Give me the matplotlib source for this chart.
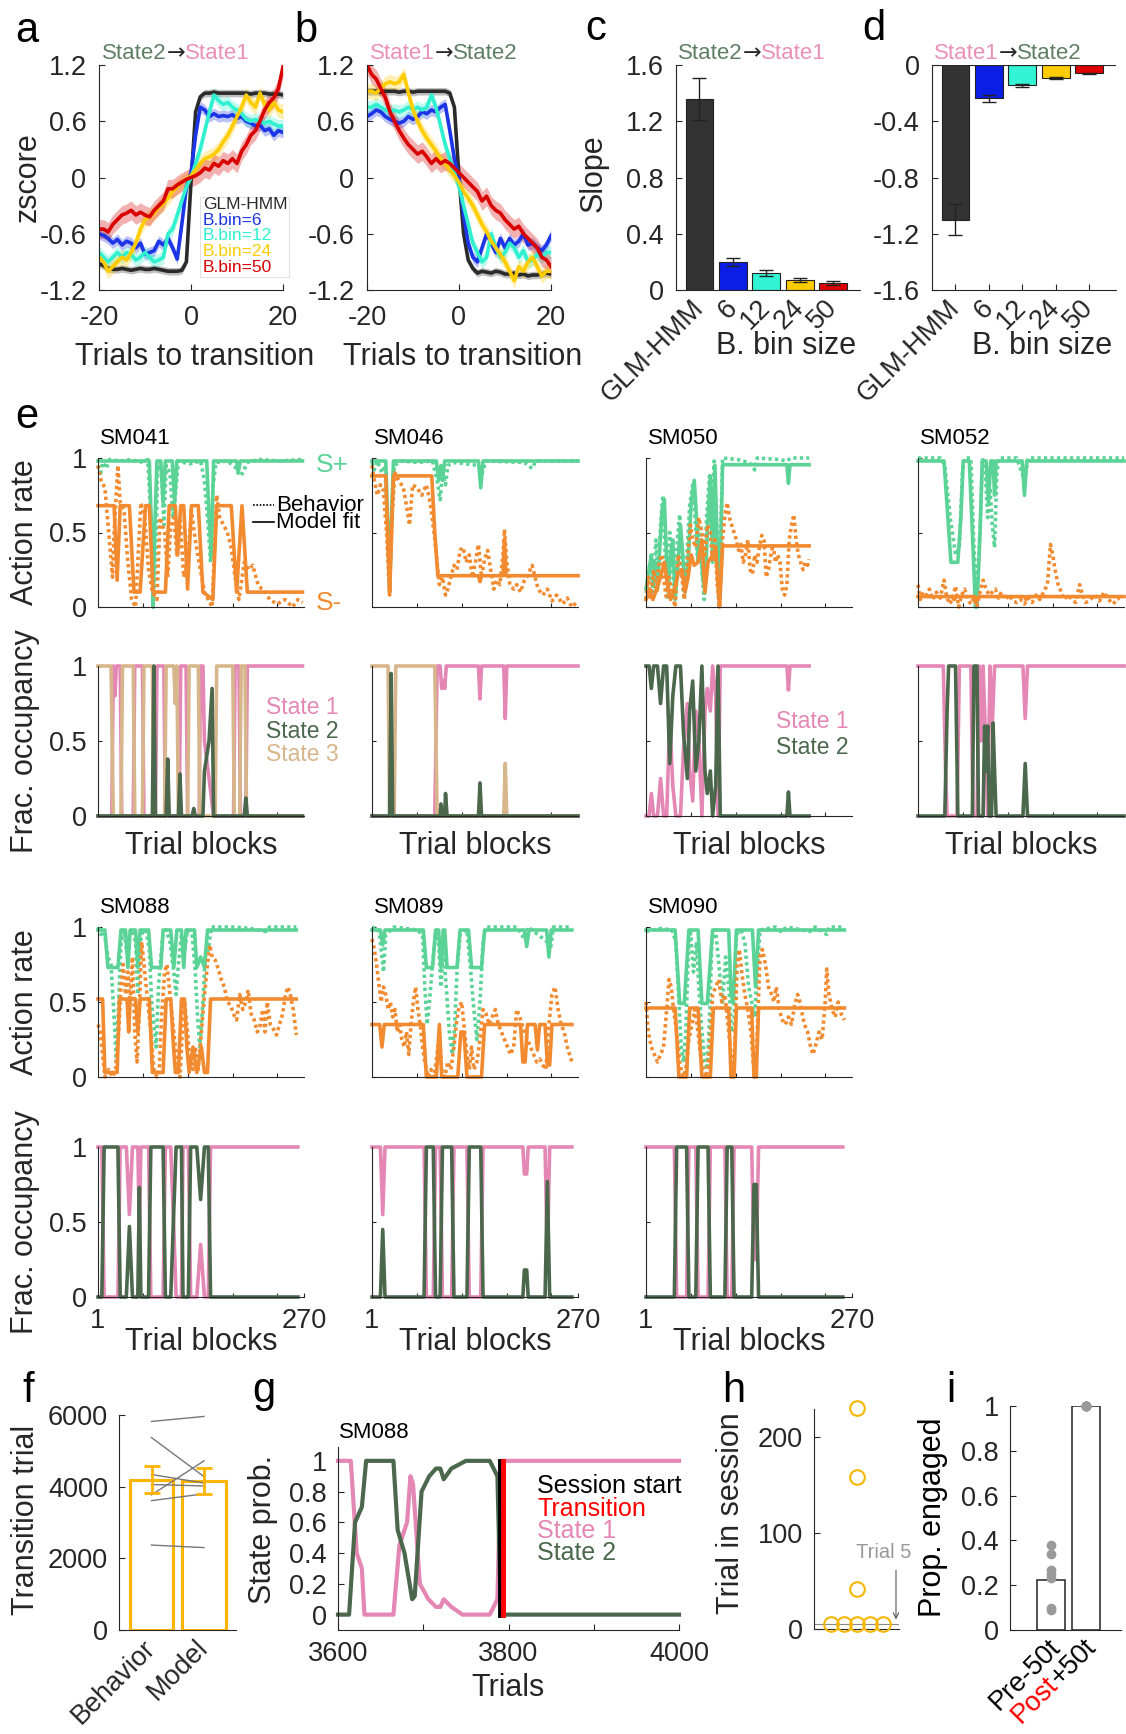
import matplotlib
matplotlib.use('Agg')
import matplotlib.pyplot as plt
import numpy as np
from matplotlib.patches import Rectangle
from matplotlib.lines import Line2D
from matplotlib import transforms

plt.rcParams['font.family'] = ['Liberation Sans', 'DejaVu Sans']
plt.rcParams['axes.unicode_minus'] = False

# ---------------- data: panels a / b (z-score around transition) ----------------
trials = list(range(-20, 21))
a_glm = [-0.92, -0.94, -0.97, -0.98, -0.98, -0.97, -0.98, -0.99, -0.98, -0.97,
         -0.98, -0.98, -0.97, -0.98, -0.99, -1.0, -1.0, -1.0, -0.99, -0.9,
         -0.05,
         0.7, 0.86, 0.9, 0.9, 0.91, 0.9, 0.9, 0.9, 0.9, 0.9,
         0.9, 0.9, 0.89, 0.9, 0.9, 0.9, 0.89, 0.89, 0.89, 0.88]
a_b6 = [-0.6, -0.62, -0.65, -0.7, -0.66, -0.72, -0.68, -0.7, -0.75, -0.7,
        -0.82, -0.8, -0.78, -0.68, -0.72, -0.65, -0.75, -0.87, -0.5, -0.1,
        0.05,
        0.45, 0.75, 0.72, 0.65, 0.68, 0.65, 0.66, 0.65, 0.67, 0.63,
        0.65, 0.6, 0.58, 0.55, 0.56, 0.5, 0.52, 0.45, 0.5, 0.48]
a_b12 = [-0.8, -0.85, -0.9, -0.85, -0.8, -0.85, -0.8, -0.82, -0.88, -0.85,
         -0.8, -0.85, -0.9, -0.88, -0.85, -0.6, -0.55, -0.4, -0.25, -0.1,
         0.0,
         0.15, 0.3, 0.5, 0.7, 0.88, 0.82, 0.78, 0.8, 0.75, 0.72,
         0.68, 0.62, 0.6, 0.62, 0.6, 0.58, 0.6, 0.57, 0.55, 0.55]
a_b24 = [-0.85, -0.9, -1.0, -0.95, -0.9, -0.85, -0.88, -0.8, -0.7, -0.55,
         -0.45, -0.42, -0.38, -0.32, -0.28, -0.22, -0.15, -0.1, -0.05, -0.02,
         0.02,
         0.08, 0.15, 0.2, 0.22, 0.25, 0.3, 0.38, 0.45, 0.55, 0.65,
         0.75, 0.88, 0.8, 0.75, 0.9, 0.78, 0.72, 0.8, 0.72, 0.7]
a_b50 = [-0.55, -0.55, -0.58, -0.5, -0.45, -0.4, -0.38, -0.35, -0.4, -0.37,
         -0.4, -0.42, -0.35, -0.3, -0.25, -0.12, -0.12, -0.08, -0.05, -0.02,
         0.0,
         0.02, 0.05, 0.1, 0.08, 0.15, 0.12, 0.18, 0.15, 0.2, 0.15,
         0.28, 0.35, 0.45, 0.5, 0.6, 0.72, 0.8, 0.85, 0.95, 1.18]

b_glm = [0.92, 0.92, 0.92, 0.91, 0.92, 0.92, 0.92, 0.91, 0.92, 0.92,
         0.91, 0.92, 0.92, 0.92, 0.92, 0.92, 0.92, 0.92, 0.9, 0.75,
         0.0,
         -0.6, -0.88, -0.97, -1.02, -1.0, -1.01, -1.02, -1.0, -1.01, -1.03,
         -1.03, -1.02, -1.04, -1.03, -1.05, -1.04, -1.04, -1.03, -1.02, -1.03]
b_b6 = [0.65, 0.68, 0.72, 0.7, 0.65, 0.62, 0.6, 0.58, 0.6, 0.65,
        0.62, 0.65, 0.7, 0.68, 0.72, 0.7, 0.75, 0.78, 0.5, 0.2,
        0.0,
        -0.4, -0.7, -0.85, -0.9, -0.75, -0.6, -0.7, -0.8, -0.65, -0.75,
        -0.65, -0.72, -0.68, -0.6, -0.72, -0.7, -0.75, -0.78, -0.72, -0.62]
b_b12 = [0.75, 0.75, 0.78, 0.75, 0.72, 0.7, 0.72, 0.7, 0.72, 0.75,
         0.72, 0.75, 0.72, 0.75, 0.88, 0.75, 0.55, 0.35, 0.2, 0.05,
         -0.1,
         -0.3, -0.5, -0.7, -0.8, -0.9, -0.85, -0.6, -0.75, -0.85, -0.8,
         -0.7, -0.75, -0.85, -0.78, -0.9, -0.88, -0.82, -0.85, -0.8, -0.8]
b_b24 = [0.92, 0.92, 0.9, 0.95, 1.0, 1.02, 1.0, 1.02, 1.1, 0.9,
         0.72, 0.6, 0.5, 0.42, 0.35, 0.28, 0.2, 0.15, 0.08, 0.02,
         -0.05,
         -0.15, -0.22, -0.3, -0.4, -0.5, -0.58, -0.68, -0.75, -0.82, -0.9,
         -1.0, -1.1, -0.95, -1.0, -0.9, -0.85, -0.95, -1.05, -1.0, -1.0]
b_b50 = [1.2, 1.1, 1.05, 0.95, 0.85, 0.7, 0.6, 0.5, 0.42, 0.35,
         0.3, 0.25, 0.28, 0.22, 0.15, 0.2, 0.15, 0.18, 0.15, 0.1,
         0.05,
         0.0, -0.05, -0.1, -0.15, -0.25, -0.2, -0.3, -0.35, -0.38, -0.45,
         -0.5, -0.55, -0.52, -0.6, -0.65, -0.7, -0.75, -0.85, -0.88, -0.95]
sem_ab = [0.04, 0.06, 0.07, 0.08, 0.1]
series_names = ['GLM-HMM', 'B.bin=6', 'B.bin=12', 'B.bin=24', 'B.bin=50']

# ---------------- data: panels c / d (slopes) ----------------
bin_labels = ['GLM-HMM', '6', '12', '24', '50']
slope_c = [1.36, 0.2, 0.12, 0.07, 0.05]
err_c = [0.15, 0.03, 0.02, 0.015, 0.012]
slope_d = [-1.1, -0.235, -0.145, -0.09, -0.06]
err_d = [0.11, 0.025, 0.012, 0.006, 0.006]

# ---------------- data: panel e (block, value) ----------------
sm041_sp_fit = [(1, .98), (68, .98), (71, .5), (73, 0.0), (75, .5), (78, .98), (83, .98), (86, .7), (89, .98),
                (98, .98), (101, .7), (104, .98), (143, .98), (146, .6), (149, .35), (152, .98), (182, .98),
                (184, .9), (187, .98), (268, .98)]
sm041_sp_beh = [(1, .95), (4, .88), (7, .97), (12, .93), (16, .99), (30, .98), (45, .99), (55, .97), (66, .99),
                (70, .6), (73, .0), (76, .3), (79, .95), (84, .9), (87, .55), (90, .95), (95, .9), (99, .6),
                (102, .75), (106, .98), (120, .96), (135, .98), (140, .85), (144, .6), (148, .3), (151, .8),
                (155, .97), (170, .98), (182, .93), (186, .88), (190, .9), (196, .97), (210, .99), (240, .98),
                (268, .99)]
sm041_sm_fit = [(1, .68), (22, .68), (26, .18), (30, .68), (42, .68), (48, .1), (56, .1), (63, .68), (68, .68),
                (73, .1), (89, .1), (94, .68), (102, .68), (105, .35), (109, .68), (113, .68), (118, .12),
                (123, .68), (132, .68), (138, .1), (151, .05), (156, .68), (175, .68), (182, .1), (189, .68),
                (196, .1), (268, .1)]
sm041_sm_beh = [(1, .95), (5, .85), (10, .8), (15, .5), (20, .2), (22, .5), (27, .95), (30, .7), (35, .65),
                (40, .3), (45, .05), (50, .0), (57, .7), (62, .6), (67, .25), (72, .1), (78, .05), (82, .6),
                (88, .5), (92, .2), (96, .55), (100, .6), (104, .35), (108, .6), (113, .2), (118, .3), (123, .65),
                (128, .45), (133, .3), (140, .1), (145, .05), (150, .0), (156, .75), (160, .6), (165, .55),
                (170, .5), (175, .4), (180, .2), (185, .05), (192, .3), (198, .25), (203, .28), (210, .15),
                (215, .12), (220, .1), (225, .05), (235, .02), (245, .05), (255, .0), (262, .05), (268, .03)]
sm041_st1 = [(1, 0), (19, 0), (21, 1), (23, .8), (25, 1), (30, 1), (32, 0), (47, 0), (49, 1), (59, 1), (61, 0),
             (76, 0), (78, 1), (87, 1), (89, 0), (107, 0), (109, 1), (116, 1), (118, 0), (133, 0), (135, 1),
             (138, 1), (140, .5), (152, 0), (178, 0), (180, 1), (185, 1), (187, 0), (194, 0), (196, 1), (268, 1)]
sm041_st2 = [(1, 0), (72, 0), (74, 1), (76, 0), (90, 0), (92, .38), (94, 0), (106, 0), (108, .28), (110, 0),
             (124, 0), (126, .05), (128, 0), (138, 0), (140, .3), (146, .5), (150, .85), (152, 0), (192, 0),
             (194, .12), (196, 0), (268, 0)]
sm041_st3 = [(1, 1), (18, 1), (21, 0), (31, 0), (33, 1), (47, 1), (49, 0), (59, 0), (61, 1), (72, 1), (74, 0),
             (88, 0), (90, 1), (100, 1), (102, .75), (104, 1), (106, 0), (118, 0), (120, 1), (132, 1), (134, 0),
             (154, 0), (156, 1), (177, 1), (179, 0), (186, 0), (188, 1), (193, 1), (195, 0), (268, 0)]

sm046_sp_fit = [(1, .98), (19, .98), (22, .5), (24, .15), (26, .5), (29, .98), (85, .98), (88, .85), (91, .95),
                (93, .85), (96, .98), (140, .98), (143, .8), (146, .98), (270, .98)]
sm046_sp_beh = [(1, .97), (4, .92), (8, .98), (14, .9), (18, .95), (21, .6), (24, .1), (27, .7), (30, .95),
                (40, .98), (60, .97), (80, .98), (86, .85), (90, .72), (93, .9), (97, .82), (100, .95), (110, .97),
                (140, .95), (145, .9), (150, .98), (200, .97), (210, .93), (215, .98), (270, .98)]
sm046_sm_fit = [(1, .88), (19, .88), (22, .4), (24, .1), (26, .4), (29, .88), (79, .88), (83, .5), (87, .21),
                (140, .21), (142, .17), (144, .21), (172, .21), (174, .45), (176, .21), (270, .21)]
sm046_sm_beh = [(1, .95), (4, .85), (8, .75), (12, .82), (16, .78), (20, .5), (24, .08), (27, .6), (31, .9),
                (36, .85), (42, .8), (47, .65), (50, .55), (54, .82), (60, .8), (66, .75), (72, .82), (77, .7),
                (82, .5), (86, .3), (89, .15), (93, .2), (97, .08), (100, .12), (104, .2), (108, .28), (112, .25),
                (116, .38), (120, .4), (124, .3), (128, .35), (132, .2), (136, .3), (140, .42), (144, .2),
                (148, .32), (152, .38), (156, .25), (160, .12), (164, .18), (168, .15), (172, .35), (174, .52),
                (177, .3), (181, .15), (186, .12), (190, .15), (195, .1), (200, .18), (205, .22), (210, .28),
                (214, .2), (218, .12), (224, .08), (230, .12), (236, .04), (242, .08), (250, .02), (256, .06),
                (262, .0), (268, .03)]
sm046_st1 = [(1, 0), (83, 0), (86, 1), (90, 1), (92, .85), (94, .9), (96, .85), (98, 1), (140, 1), (142, .78),
             (144, 1), (173, 1), (175, .65), (177, 1), (270, 1)]
sm046_st2 = [(1, 0), (24, 0), (26, .95), (28, 0), (90, 0), (91, .08), (93, 0), (96, 0), (97, .15), (99, 0),
             (140, 0), (142, .22), (144, 0), (270, 0)]
sm046_st3 = [(1, 1), (22, 1), (24, 0), (30, 0), (32, 1), (83, 1), (86, 0), (173, 0), (175, .35), (177, 0),
             (270, 0)]

sm050_sp_fit = [(1, .12), (5, .25), (8, .35), (10, .15), (13, .3), (16, .12), (19, .4), (22, .65), (25, .72),
                (28, .3), (30, .1), (33, .35), (36, .45), (39, .05), (43, .3), (46, .55), (49, .35), (52, .1),
                (56, .3), (60, .7), (64, .85), (67, .6), (69, .3), (72, .45), (75, .2), (78, .1), (81, .5),
                (85, .88), (88, .3), (91, .95), (94, .4), (97, .05), (99, .5), (101, .955), (185, .955),
                (187, .83), (189, .955), (214, .955)]
sm050_sp_beh = [(1, .05), (4, .25), (7, .3), (10, .1), (14, .45), (17, .2), (20, .55), (23, .75), (26, .35),
                (29, .05), (32, .5), (35, .35), (38, .05), (42, .45), (45, .62), (48, .25), (51, .05), (55, .4),
                (58, .68), (62, .82), (65, .6), (68, .35), (71, .55), (74, .25), (77, .05), (80, .6), (84, .88),
                (87, .45), (90, .98), (93, .6), (96, .0), (99, .6), (101, 1.0), (120, .99), (135, .97),
                (140, .95), (143, .92), (146, 1.0), (175, .99), (185, .98), (190, 1.0), (214, 1.0)]
sm050_sm_fit = [(1, .05), (6, .1), (10, .05), (15, .12), (20, .2), (25, .3), (29, .15), (33, .05), (38, .12),
                (43, .22), (48, .25), (52, .1), (56, .2), (60, .35), (64, .28), (69, .3), (74, .45), (78, .1),
                (82, .3), (88, .35), (92, .4), (95, .15), (97, .0), (99, .2), (101, .41), (214, .41)]
sm050_sm_beh = [(1, .05), (4, .2), (7, .05), (11, .25), (15, .1), (18, .3), (22, .35), (25, .15), (28, .05),
                (31, .2), (35, .1), (39, .0), (43, .35), (47, .25), (51, .05), (55, .3), (59, .55), (62, .45),
                (66, .4), (70, .6), (74, .5), (78, .35), (81, .55), (85, .5), (88, .3), (91, .45), (94, .15),
                (97, .0), (101, .45), (104, .62), (107, .7), (110, .6), (113, .55), (116, .5), (119, .45),
                (122, .38), (125, .42), (128, .3), (131, .35), (134, .45), (137, .25), (140, .22), (143, .35),
                (146, .3), (149, .4), (152, .48), (155, .45), (158, .2), (161, .25), (164, .35), (167, .42),
                (170, .3), (173, .35), (176, .3), (179, .12), (182, .08), (185, .15), (188, .45), (191, .55),
                (194, .62), (197, .45), (200, .35), (203, .3), (206, .25), (209, .3), (212, .28), (214, .32)]
sm050_st1 = [(1, 0), (5, 0), (8, .15), (11, 0), (16, 0), (20, .25), (24, 0), (28, 0), (32, .65), (36, .2),
             (40, 0), (46, 0), (50, .45), (55, .75), (58, .3), (62, .1), (66, .7), (70, .5), (74, 0), (78, .7),
             (81, .85), (85, .7), (88, 1.0), (92, .8), (95, 0), (98, 1.0), (185, 1), (187, .84), (189, 1),
             (214, 1)]
sm050_st2 = [(1, 1), (5, 1), (8, .85), (11, 1), (16, 1), (20, .75), (24, 1), (28, 1), (32, .35), (36, .8),
             (40, 1), (46, 1), (50, .55), (55, .25), (58, .7), (62, .9), (66, .3), (70, .5), (74, 1), (78, .3),
             (81, .15), (85, .3), (88, .0), (92, .2), (95, 1.0), (98, .0), (185, 0), (187, .16), (189, 0),
             (214, 0)]

sm052_sp_fit = [(1, .98), (35, .98), (40, .6), (44, .3), (53, .3), (57, .6), (60, .98), (68, .98), (72, .5),
                (76, 0.0), (78, 0.0), (82, .5), (85, .98), (90, .98), (93, .7), (96, .98), (99, .98), (101, .75),
                (103, .98), (137, .98), (140, .75), (143, .98), (270, .98)]
sm052_sp_beh = [(1, 1.0), (30, 1.0), (36, .95), (40, .75), (43, .6), (46, .5), (50, .35), (55, .4), (59, .9),
                (62, 1.0), (70, 1.0), (74, .4), (77, .1), (79, .2), (82, .5), (85, 1.0), (89, .9), (92, .6),
                (95, .8), (98, .55), (101, .4), (104, .9), (107, 1.0), (130, 1.0), (140, .85), (145, 1.0),
                (200, 1.0), (270, 1.0)]
sm052_sm_fit = [(1, .07), (45, .07), (48, .05), (52, .07), (75, .07), (77, .03), (80, .07), (140, .07),
                (142, .05), (144, .07), (270, .07)]
sm052_sm_beh = [(1, .15), (4, .05), (8, .1), (12, .08), (16, .12), (20, .05), (25, .1), (30, .06), (35, .18),
                (38, .08), (42, .02), (46, .05), (50, .14), (54, .0), (58, .08), (62, .12), (66, .05), (70, .02),
                (74, .06), (78, .0), (82, .1), (86, .18), (90, .12), (94, .08), (98, .1), (102, .12), (106, .06),
                (110, .1), (115, .05), (120, .08), (125, .04), (130, .03), (135, .05), (140, .02), (145, .06),
                (150, .03), (155, .08), (160, .05), (165, .1), (170, .15), (174, .42), (177, .35), (180, .25),
                (184, .15), (188, .1), (192, .05), (197, .08), (202, .05), (207, .03), (212, .15), (216, .08),
                (220, .03), (226, .05), (232, .08), (238, .04), (244, .1), (250, .05), (256, .02), (262, .06),
                (268, .04)]
sm052_st1 = [(1, 1), (34, 1), (37, .3), (39, 0), (52, 0), (55, 1), (70, 1), (73, 0), (78, 0), (81, 1), (84, .5),
             (86, 1), (90, .4), (92, 0), (95, 1), (98, .6), (101, 1), (104, 1), (138, 1), (141, .65), (144, 1),
             (270, 1)]
sm052_st2 = [(1, 0), (36, 0), (39, .7), (41, 1), (50, 1), (53, 0), (72, 0), (74, 1), (78, 1), (80, 0), (86, 0),
             (88, .6), (90, .3), (92, .6), (94, 0), (97, 0), (99, .62), (101, .3), (103, 0), (138, 0), (141, .35),
             (144, 0), (270, 0)]

sm088_sp_fit = [(1, .98), (10, .98), (14, .73), (27, .73), (31, .98), (37, .98), (40, .73), (43, .98), (50, .98),
                (53, .73), (56, .98), (67, .98), (71, .73), (83, .73), (86, .98), (96, .98), (100, .73), (104, .98),
                (110, .98), (113, .73), (116, .98), (127, .98), (130, .73), (135, .8), (140, .73), (144, .98),
                (260, .98)]
sm088_sp_beh = [(1, 1), (5, .95), (9, .97), (14, .8), (18, .75), (22, .4), (25, .1), (28, .5), (31, .9),
                (35, .98), (38, .85), (42, .95), (46, .98), (50, .9), (53, .55), (56, .9), (60, .98), (64, .97),
                (68, .85), (71, .5), (74, .35), (77, .2), (80, .6), (83, .8), (86, .95), (90, .98), (95, .9),
                (100, .7), (103, .55), (106, .75), (110, .95), (114, .85), (118, .98), (124, .95), (128, .7),
                (131, .4), (134, .2), (138, .5), (141, .8), (145, .85), (149, 1.0), (180, 1.0), (200, .99),
                (220, .97), (225, 1.0), (260, 1.0)]
sm088_sm_fit = [(1, .52), (7, .52), (10, .03), (26, .03), (29, .52), (39, .52), (41, .3), (43, .52), (50, .52),
                (53, .3), (56, .52), (68, .52), (72, .03), (86, .03), (90, .52), (96, .52), (99, .25), (102, .03),
                (106, .03), (110, .52), (114, .52), (117, .2), (120, .03), (125, .2), (130, .03), (136, .2),
                (140, .03), (144, .03), (148, .52), (260, .52)]
sm088_sm_beh = [(1, .35), (4, .3), (7, .15), (10, .0), (15, .05), (20, .0), (24, .05), (28, .3), (31, .6),
                (34, .75), (37, .55), (40, .7), (43, .5), (46, .8), (49, .3), (52, .1), (55, .45), (58, .9),
                (62, .7), (66, .5), (70, .3), (74, .05), (78, .0), (81, .05), (84, .4), (88, .7), (91, .75),
                (95, .55), (99, .35), (102, .2), (105, .1), (108, .0), (111, .3), (114, .5), (118, .3), (121, .1),
                (125, .05), (128, .2), (132, .05), (136, .3), (140, .55), (144, .75), (147, .88), (150, .8),
                (154, .78), (158, .72), (162, .65), (166, .6), (170, .5), (174, .48), (178, .42), (182, .38),
                (186, .55), (190, .45), (194, .5), (197, .58), (201, .42), (205, .38), (209, .3), (213, .35),
                (216, .45), (219, .3), (222, .5), (226, .35), (230, .32), (234, .28), (238, .35), (242, .42),
                (246, .55), (249, .6), (252, .55), (256, .45), (260, .28)]
sm088_st1 = [(1, 1), (6, 1), (9, 0), (27, 0), (30, 1), (38, 1), (42, .55), (46, 1), (53, 1), (55, .45), (57, 1),
             (67, 1), (70, 0), (86, 0), (89, 1), (96, 1), (100, .45), (103, 0), (110, 0), (112, 1), (119, 1),
             (122, 0), (130, 0), (135, .35), (140, 0), (145, 0), (148, 1), (262, 1)]
sm088_st2 = [(1, 0), (6, 0), (9, 1), (27, 1), (30, 0), (38, 0), (42, .47), (46, 0), (53, 0), (55, .73), (57, 0),
             (67, 0), (70, 1), (86, 1), (89, 0), (96, 0), (100, .58), (103, 1), (110, 1), (112, 0), (119, 0),
             (122, 1), (130, 1), (135, .65), (140, 1), (145, 1), (148, 0), (262, 0)]

sm089_sp_fit = [(1, .98), (12, .98), (15, .88), (18, .98), (68, .98), (72, .73), (80, .73), (84, .98), (88, .98),
                (91, .73), (94, .98), (96, .98), (99, .73), (112, .73), (116, .98), (127, .98), (131, .73),
                (144, .73), (148, .98), (200, .98), (203, .87), (206, .98), (229, .98), (232, .8), (235, .98),
                (262, .98)]
sm089_sp_beh = [(1, 1), (10, .98), (13, .85), (16, .7), (19, .95), (30, 1), (60, .98), (67, .95), (70, .6),
                (73, .35), (76, .5), (80, .75), (84, .95), (88, .9), (91, .6), (94, .85), (98, .6), (102, .3),
                (106, .15), (109, .35), (112, .7), (116, .95), (125, .98), (130, .7), (134, .45), (138, .25),
                (142, .5), (146, .9), (150, 1.0), (190, 1.0), (200, .92), (205, 1), (230, .9), (234, .85),
                (238, 1), (262, 1)]
sm089_sm_fit = [(1, .35), (11, .35), (14, .2), (17, .35), (68, .35), (72, .0), (85, .0), (89, .35), (92, .0),
                (113, .0), (117, .3), (121, .3), (125, .0), (144, .0), (148, .35), (195, .35), (198, .1),
                (201, .1), (204, .35), (214, .35), (217, .18), (220, .35), (227, .35), (230, .08), (233, .08),
                (236, .35), (262, .35)]
sm089_sm_beh = [(1, .92), (4, .85), (7, .75), (10, .62), (13, .5), (16, .6), (19, .55), (22, .45), (25, .5),
                (28, .4), (31, .45), (34, .3), (37, .35), (40, .25), (43, .2), (46, .3), (49, .15), (52, .35),
                (55, .5), (58, .6), (61, .45), (64, .35), (67, .2), (70, .1), (74, .0), (78, .05), (82, .0),
                (86, .15), (89, .3), (92, .05), (96, .0), (100, .1), (104, .05), (108, .2), (111, .35), (114, .45),
                (118, .5), (122, .3), (125, .15), (128, .05), (131, .2), (134, .05), (138, .1), (142, .25),
                (146, .45), (150, .42), (154, .35), (158, .4), (162, .45), (166, .35), (170, .3), (174, .25),
                (178, .2), (182, .15), (186, .2), (190, .45), (194, .4), (197, .35), (200, .3), (204, .25),
                (208, .2), (212, .15), (216, .1), (220, .12), (224, .08), (228, .05), (232, .35), (236, .55),
                (240, .6), (244, .45), (248, .35), (252, .3), (256, .2), (262, .1)]
sm089_st1 = [(1, 1), (12, 1), (15, .55), (18, 1), (69, 1), (72, 0), (81, 0), (84, 1), (90, 1), (93, 0), (105, 0),
             (108, 1), (125, 1), (128, 0), (143, 0), (146, 1), (198, 1), (200, .82), (203, .82), (205, 1),
             (227, 1), (230, .25), (233, 1), (262, 1)]
sm089_st2 = [(1, 0), (12, 0), (15, .45), (18, 0), (69, 0), (72, 1), (81, 1), (84, 0), (90, 0), (93, 1), (105, 1),
             (108, 0), (125, 0), (128, 1), (143, 1), (146, 0), (198, 0), (200, .18), (203, .18), (205, 0),
             (227, 0), (230, .77), (233, 0), (262, 0)]

sm090_sp_fit = [(1, .98), (39, .98), (45, .49), (51, .49), (57, .98), (69, .98), (74, .49), (81, .49), (88, .98),
                (109, .98), (112, .55), (115, .49), (119, .98), (140, .98), (144, .6), (148, .98), (260, .98)]
sm090_sp_beh = [(1, .97), (10, .98), (20, .99), (35, .98), (40, .9), (44, .5), (47, .2), (50, .1), (53, .3),
                (56, .8), (59, .98), (63, .7), (67, .9), (70, .6), (74, .3), (78, .1), (81, .05), (84, .4),
                (87, .9), (92, .98), (97, .7), (101, .5), (105, .8), (109, .6), (113, .3), (116, .35), (119, .95),
                (125, .98), (130, .9), (135, .6), (139, .5), (143, .4), (146, .7), (150, .98), (170, 1.0),
                (177, .97), (185, 1.0), (215, .97), (222, 1.0), (237, .95), (240, 1.0), (260, 1.0)]
sm090_sm_fit = [(1, .46), (39, .46), (44, .0), (54, .0), (58, .46), (69, .46), (74, .0), (85, .0), (89, .46),
                (109, .46), (112, .0), (116, .0), (119, .46), (139, .46), (142, .0), (145, .0), (148, .46),
                (260, .46)]
sm090_sm_beh = [(1, .5), (4, .3), (8, .2), (12, .15), (16, .1), (20, .15), (24, .2), (28, .45), (31, .65),
                (34, .6), (37, .45), (41, .3), (45, .1), (49, .0), (53, .05), (57, .25), (61, .35), (65, .45),
                (69, .3), (72, .15), (76, .05), (80, .0), (84, .2), (88, .55), (92, .6), (96, .65), (100, .5),
                (104, .55), (108, .35), (112, .15), (116, .05), (120, .75), (123, .85), (126, .7), (130, .55),
                (134, .45), (138, .3), (141, .1), (144, .0), (147, .4), (150, .82), (153, .85), (157, .75),
                (161, .6), (165, .55), (168, .5), (171, .6), (175, .45), (179, .38), (183, .35), (187, .4),
                (191, .35), (195, .48), (199, .55), (202, .5), (205, .42), (208, .35), (212, .3), (216, .2),
                (219, .15), (223, .22), (227, .3), (231, .25), (235, .5), (237, .72), (240, .55), (244, .45),
                (248, .4), (252, .5), (256, .42), (260, .38)]
sm090_st1 = [(1, 1), (38, 1), (41, 0), (54, 0), (57, 1), (66, 1), (69, 0), (82, 0), (85, 1), (104, 1), (107, 0),
             (113, 0), (116, 1), (139, 1), (142, .25), (145, .25), (148, 1), (258, 1)]
sm090_st2 = [(1, 0), (38, 0), (41, 1), (54, 1), (57, 0), (66, 0), (69, 1), (82, 1), (85, 0), (104, 0), (107, 1),
             (113, 1), (116, 0), (139, 0), (142, .75), (145, .75), (148, 0), (258, 0)]

# ---------------- data: panel f ----------------
f_labels = ['Behavior', 'Model']
f_means = [4200, 4150]
f_err = [380, 360]
f_beh = [5820, 5370, 4340, 4060, 3770, 3610, 2370]
f_mod = [5960, 4280, 4100, 4020, 4720, 3800, 2300]

# ---------------- data: panel g (SM088 state probabilities) ----------------
g_state1 = [(3600, 1), (3615, 1), (3622, .4), (3628, .3), (3631, 0), (3665, 0), (3672, .45), (3681, .6),
            (3685, .9), (3688, .85), (3696, .2), (3706, .1), (3715, .05), (3720, .05), (3724, .1), (3733, .05),
            (3746, 0), (3778, 0), (3787, .1), (3791, 1), (4000, 1)]
g_state2 = [(3600, 0), (3613, 0), (3620, .6), (3628, .7), (3633, 1), (3665, 1), (3670, .55), (3678, .4),
            (3687, .1), (3690, .12), (3698, .8), (3707, .9), (3715, .95), (3720, .95), (3724, .88), (3733, .95),
            (3750, 1), (3778, 1), (3787, .9), (3791, 0), (4000, 0)]
g_session_start = 3790
g_transition = 3794

# ---------------- data: panel h ----------------
h_x = [1, 2, 3, 4, 5, 3, 3, 3]
h_y = [5, 5, 5, 5, 5, 42, 158, 230]

# ---------------- data: panel i ----------------
i_means = [0.225, 1.0]
i_pre = [0.38, 0.34, 0.27, 0.25, 0.23, 0.10, 0.09]
i_post = [1, 1, 1, 1, 1, 1, 1]

# ---------------- colours / sizes ----------------
AX = '#262626'
C_SER = ['#2b2b2b', '#1c35e6', '#2ff0cf', '#ffcc00', '#d90000']
C_BAR = ['#333333', '#0a1ee6', '#33f5d6', '#ffcc00', '#e00000']
GREEN = '#5bd397'
ORANGE = '#f28a30'
PINK = '#e487b5'
DKGREEN = '#4b684d'
TAN = '#d8b68c'
T_GREEN = '#5e7f64'
T_PINK = '#ea90b8'
F_ORANGE = '#ffb400'
LAB = 22      # axis label size
TICK = 19.5   # tick label size

W, H = 1126, 1734
fig = plt.figure(figsize=(W / 100, H / 100), dpi=100)
renderer = fig.canvas.get_renderer()


def box(l, t, r, b):
    return fig.add_axes([l / W, 1 - b / H, (r - l) / W, (b - t) / H])


def ftext(x, y, s, **kw):
    return fig.text(x / W, 1 - y / H, s, **kw)


def style(ax, xpad=8, ypad=8):
    for s in ['top', 'right']:
        ax.spines[s].set_visible(False)
    for s in ['left', 'bottom']:
        ax.spines[s].set_color(AX)
        ax.spines[s].set_linewidth(0.8)
    ax.tick_params(direction='in', length=4, width=0.8, color=AX, labelcolor=AX, labelsize=TICK)
    ax.tick_params(axis='x', pad=xpad)
    ax.tick_params(axis='y', pad=ypad)
    ax.patch.set_alpha(0)


def colored(x, y, parts, size):
    for s, c in parts:
        fam = ['DejaVu Sans'] if s == '\u2192' else ['Liberation Sans', 'DejaVu Sans']
        t = ftext(x, y, s, color=c, fontsize=size, va='baseline', family=fam)
        x += t.get_window_extent(renderer).width


def trace(ax, pts, color, dotted=False, lw=2.4):
    xs = [p[0] for p in pts]
    ys = [p[1] for p in pts]
    ls = (0, (0.9, 0.9)) if dotted else '-'
    ax.plot(xs, ys, color=color, lw=lw, ls=ls, clip_on=False, solid_joinstyle='round')


def ylab(x, y, s, color=AX):
    ftext(x, y, s, fontsize=LAB, color=color, rotation=90, ha='center', va='center')


def xlab(x, y, s):
    ftext(x, y, s, fontsize=LAB, color=AX, ha='center', va='center')


def letter(x, y, s):
    ftext(x, y, s, fontsize=30, color='black', va='baseline')


ARROW = '\u2192'

# ================= panels a, b =================
ab_sets = [(99, [a_glm, a_b6, a_b12, a_b24, a_b50], [('State2', T_GREEN), (ARROW, AX), ('State1', T_PINK)]),
           (367, [b_glm, b_b6, b_b12, b_b24, b_b50], [('State1', T_PINK), (ARROW, AX), ('State2', T_GREEN)])]
a_ax = None
for left, sers, ttl in ab_sets:
    ax = box(left, 65, left + 184, 290)
    style(ax, xpad=11, ypad=9)
    for vals, col, sem in zip(sers, C_SER, sem_ab):
        v = np.array(vals)
        ax.fill_between(trials, v - sem, v + sem, color=col, alpha=0.3, lw=0)
        ax.plot(trials, v, color=col, lw=2.6)
    ax.set_xlim(-20, 20)
    ax.set_ylim(-1.2, 1.2)
    ax.set_xticks([-20, 0, 20])
    ax.set_xticklabels(['-20', '0', '20'])
    ax.set_yticks([-1.2, -0.6, 0, 0.6, 1.2])
    ax.set_yticklabels(['-1.2', '-0.6', '0', '0.6', '1.2'])
    colored(left + 3, 59, ttl, 16)
    xlab(left + 96, 357, 'Trials to transition')
    if a_ax is None:
        a_ax = ax

ax = a_ax
ax.add_patch(Rectangle((0.55, 0.058), 0.48, 0.355, transform=ax.transAxes, facecolor='white', alpha=0.85,
                       edgecolor='#dddddd', lw=0.8, clip_on=False, zorder=5))
for k, (name, col) in enumerate(zip(series_names, C_SER)):
    ax.text(0.565, 0.378 - k * 0.069, name, transform=ax.transAxes, color=col, fontsize=12.5,
            va='center', ha='left', zorder=6)
ylab(28, 177, 'zscore')
letter(15, 42, 'a')
letter(294, 42, 'b')

# ================= panels c, d =================
bar_x = np.arange(1, 6)
for left, vals, errs, ttl in [(676, slope_c, err_c, [('State2', T_GREEN), (ARROW, AX), ('State1', T_PINK)]),
                              (932, slope_d, err_d, [('State1', T_PINK), (ARROW, AX), ('State2', T_GREEN)])]:
    ax = box(left, 65, left + 184, 290)
    style(ax, xpad=10, ypad=9)
    ax.bar(bar_x, vals, width=0.83, color=C_BAR, edgecolor='#222222', lw=0.8, zorder=2)
    ax.errorbar(bar_x, vals, yerr=errs, fmt='none', ecolor='#222222', elinewidth=1, capsize=5, capthick=1,
                zorder=3)
    ax.set_xlim(0.3, 5.8)
    ax.set_xticks(bar_x)
    ax.set_xticklabels(bin_labels, rotation=45, ha='right', va='center', rotation_mode='anchor')
    if left == 676:
        ax.set_ylim(0, 1.6)
        ax.set_yticks([0, 0.4, 0.8, 1.2, 1.6])
        ax.set_yticklabels(['0', '0.4', '0.8', '1.2', '1.6'])
    else:
        ax.set_ylim(-1.6, 0)
        ax.set_yticks([-1.6, -1.2, -0.8, -0.4, 0])
        ax.set_yticklabels(['-1.6', '-1.2', '-0.8', '-0.4', '0'])
        ax.axhline(0, color=AX, lw=0.8, zorder=4)
    colored(left + 2, 59, ttl, 16)
    xlab(left + 110, 346, 'B. bin size')
ylab(594, 173, 'Slope')
letter(585, 40, 'c')
letter(862, 40, 'd')

# ================= panel e =================
animals = [
    ('SM041', sm041_sp_beh, sm041_sp_fit, sm041_sm_beh, sm041_sm_fit, [sm041_st1, sm041_st3, sm041_st2]),
    ('SM046', sm046_sp_beh, sm046_sp_fit, sm046_sm_beh, sm046_sm_fit, [sm046_st1, sm046_st3, sm046_st2]),
    ('SM050', sm050_sp_beh, sm050_sp_fit, sm050_sm_beh, sm050_sm_fit, [sm050_st1, sm050_st2]),
    ('SM052', sm052_sp_beh, sm052_sp_fit, sm052_sm_beh, sm052_sm_fit, [sm052_st1, sm052_st2]),
    ('SM088', sm088_sp_beh, sm088_sp_fit, sm088_sm_beh, sm088_sm_fit, [sm088_st1, sm088_st2]),
    ('SM089', sm089_sp_beh, sm089_sp_fit, sm089_sm_beh, sm089_sm_fit, [sm089_st1, sm089_st2]),
    ('SM090', sm090_sp_beh, sm090_sp_fit, sm090_sm_beh, sm090_sm_fit, [sm090_st1, sm090_st2]),
]
col_left = [98, 372, 646, 918]
col_w = 206
row_rate = [(458, 607), (927, 1077)]
row_occ = [(666, 816), (1147, 1297)]

for idx, (name, sp_beh, sp_fit, sm_beh, sm_fit, states) in enumerate(animals):
    blk, col = divmod(idx, 4)
    l = col_left[col]
    t1, b1 = row_rate[blk]
    t2, b2 = row_occ[blk]
    ax1 = box(l, t1, l + col_w, b1)
    ax2 = box(l, t2, l + col_w, b2)
    for ax in (ax1, ax2):
        style(ax, xpad=8, ypad=8)
        ax.set_xlim(1, 270)
        ax.set_ylim(0, 1)
        ax.set_yticks([0, 0.5, 1])
        ax.set_yticklabels(['0', '0.5', '1'] if col == 0 else [])
        ax.tick_params(length=3)
    trace(ax1, sp_beh, GREEN, dotted=True, lw=2.6)
    trace(ax1, sp_fit, GREEN, lw=2.6)
    trace(ax1, sm_beh, ORANGE, dotted=True, lw=2.6)
    trace(ax1, sm_fit, ORANGE, lw=2.6)
    st_cols = [PINK, TAN, DKGREEN] if len(states) == 3 else [PINK, DKGREEN]
    for st, c in zip(states, st_cols):
        trace(ax2, st, c, lw=2.6)
    ax1.set_xticks([60, 119, 177, 235])
    ax1.set_xticklabels([])
    if blk == 0:
        ax2.set_xticks([60, 119, 177, 235])
        ax2.set_xticklabels([])
        xlab(l + col_w / 2, 846, 'Trial blocks')
    else:
        ax2.set_xticks([1, 60, 119, 177, 235, 270])
        ax2.set_xticklabels(['1', '', '', '', '', '270'])
        xlab(l + col_w / 2, 1342, 'Trial blocks')
    ftext(l + 2, t1 - 9, name, fontsize=16, color='black', va='bottom')

for (t1, b1), (t2, b2) in zip(row_rate, row_occ):
    ylab(25, (t1 + b1) / 2, 'Action rate')
    ylab(25, (t2 + b2) / 2, 'Frac. occupancy')

ftext(316, 465, 'S+', fontsize=19, color=GREEN, va='center')
ftext(316, 603, 'S-', fontsize=19, color=ORANGE, va='center')
fig.add_artist(Line2D([253 / W, 274 / W], [1 - 505 / H] * 2, color='black', lw=1.2, ls=(0, (1, 1))))
fig.add_artist(Line2D([253 / W, 274 / W], [1 - 522 / H] * 2, color='black', lw=1.2))
ftext(276, 514, 'Behavior\nModel fit', fontsize=16, color='black', va='center', linespacing=0.8)
for k, (s, c) in enumerate([('State 1', PINK), ('State 2', DKGREEN), ('State 3', TAN)]):
    ftext(266, 708 + k * 23, s, fontsize=16.5, color=c, va='center')
for k, (s, c) in enumerate([('State 1', PINK), ('State 2', DKGREEN)]):
    ftext(776, 722 + k * 25, s, fontsize=16.5, color=c, va='center')
letter(15, 428, 'e')

# ================= panel f =================
ax = box(119, 1415, 236, 1630)
style(ax)
fx = [1, 2]
for yb, ym in zip(f_beh, f_mod):
    ax.plot(fx, [yb, ym], color='#777777', lw=1, zorder=3)
ax.bar(fx, f_means, width=0.82, facecolor='none', edgecolor=F_ORANGE, lw=2.2, zorder=2)
ax.errorbar(fx, f_means, yerr=f_err, fmt='none', ecolor=F_ORANGE, elinewidth=2, capsize=6, capthick=2, zorder=4)
ax.set_xlim(0.38, 2.61)
ax.set_ylim(0, 6000)
ax.set_yticks([0, 2000, 4000, 6000])
ax.set_xticks(fx)
ax.set_xticklabels(f_labels, rotation=45, ha='right', va='center', rotation_mode='anchor')
ax.tick_params(axis='x', pad=10, length=0)
ylab(26, 1520, 'Transition trial')
letter(22, 1402, 'f')

# ================= panel g =================
ax = box(338, 1447, 679, 1630)
style(ax)
trace(ax, g_state1, PINK, lw=3)
trace(ax, g_state2, DKGREEN, lw=3)
ax.plot([g_session_start] * 2, [0, 1], color='black', lw=3.5, zorder=4)
ax.plot([g_transition] * 2, [0, 1], color='#ff0000', lw=3.5, zorder=5)
ax.set_xlim(3600, 4000)
ax.set_ylim(-0.1, 1.09)
ax.set_yticks([0, 0.2, 0.4, 0.6, 0.8, 1])
ax.set_yticklabels(['0', '0.2', '0.4', '0.6', '0.8', '1'])
ax.set_xticks([3600, 3700, 3800, 3900, 4000])
ax.set_xticklabels(['3600', '', '3800', '', '4000'])
for k, (s, c) in enumerate([('Session start', 'black'), ('Transition', '#ff0000'), ('State 1', PINK),
                            ('State 2', DKGREEN)]):
    ftext(537, 1486 + k * 22.5, s, fontsize=18, color=c, va='center')
ftext(339, 1443, 'SM088', fontsize=16, color='black', va='bottom')
xlab(508, 1688, 'Trials')
ylab(263, 1530, 'State prob.')
letter(252, 1402, 'g')

# ================= panel h =================
ax = box(814, 1409, 899, 1629)
style(ax)
ax.axhline(5, color='#888888', lw=0.8)
ax.plot(h_x, h_y, 'o', mfc='none', mec='#f5b700', ms=10.5, mew=1.5, clip_on=False, zorder=4)
ax.set_xlim(-0.3, 6.2)
ax.set_ylim(0, 229)
ax.set_xticks([])
ax.set_yticks([0, 100, 200])
ax.text(5.05, 80, 'Trial 5', color='#999999', fontsize=14.5, ha='center', va='center')
ax.annotate('', xy=(5.97, 7), xytext=(5.97, 64),
            arrowprops=dict(arrowstyle='->', color='#555555', lw=0.8))
ylab(731, 1513, 'Trial in session')
letter(722, 1402, 'h')

# ================= panel i =================
ax = box(1010, 1406, 1121, 1630)
style(ax)
ax.bar([1, 2], i_means, width=0.8, facecolor='white', edgecolor='#222222', lw=1.1, zorder=2)
ax.plot([1] * len(i_pre), i_pre, 'o', color='#9a9a9a', ms=6, zorder=3)
ax.plot([2] * len(i_post), i_post, 'o', color='#9a9a9a', ms=6, zorder=3, clip_on=False)
ax.set_xlim(-0.17, 3.0)
ax.set_ylim(0, 1)
ax.set_yticks([0, 0.2, 0.4, 0.6, 0.8, 1])
ax.set_yticklabels(['0', '0.2', '0.4', '0.6', '0.8', '1'])
ax.set_xticks([1, 2])
ax.set_xticklabels([])
base = transforms.blended_transform_factory(ax.transData, ax.transAxes)
lab_tr = transforms.offset_copy(base, fig=fig, x=6, y=-13, units='dots')
ax.text(1, 0, 'Pre-50t', transform=lab_tr, rotation=45, ha='right', va='center', rotation_mode='anchor',
        fontsize=TICK, color='black')
tmp = ax.text(0, 0, '+50t', fontsize=TICK)
w = tmp.get_window_extent(renderer).width
tmp.remove()
ax.text(2, 0, '+50t', transform=lab_tr, rotation=45, ha='right', va='center', rotation_mode='anchor',
        fontsize=TICK, color='black')
post_tr = transforms.offset_copy(base, fig=fig, x=6 - w * np.cos(np.pi / 4), y=-13 - w * np.sin(np.pi / 4),
                                 units='dots')
ax.text(2, 0, 'Post', transform=post_tr, rotation=45, ha='right', va='center', rotation_mode='anchor',
        fontsize=TICK, color='#ff0000')
ylab(933, 1517, 'Prop. engaged', color='black')
letter(946, 1402, 'i')

fig.savefig('out.png', dpi=100)
